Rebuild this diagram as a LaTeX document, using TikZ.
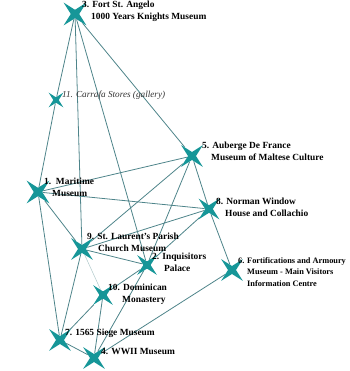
\documentclass[tikz,border=0pt]{standalone}
\usepackage{fontspec}
\setmainfont{Liberation Serif}
\usetikzlibrary{shapes.geometric, backgrounds}

\definecolor{startea}{RGB}{22,150,152}
\definecolor{linkgray}{RGB}{78,132,138}

\begin{document}
\begin{tikzpicture}[
	x=1pt, y=-1pt,
	site/.style = {star, star points=4, star point ratio=0.26, fill=startea,
	               inner sep=0pt, minimum size=#1},
	site/.default = 8.4pt,
	txt/.style = {anchor=north west, inner sep=0pt, align=left,
	              font=\fontsize{9.4}{11.8}\selectfont\bfseries},
	link/.style = {draw=linkgray, line width=0.8pt},
	faint/.style = {draw=linkgray!45, line width=0.5pt}
     ]
		\useasboundingbox (0,0) rectangle (349,371);
%
		\node[site]        (fort)     at (75,14)   {};
		\node[site=5.4pt]  (carrafa)  at (56,100)  {};
		\node[site=8pt]    (auberge)  at (192,156) {};
		\node[site]        (maritime) at (38,192)  {};
		\node[site=7.6pt]  (norman)   at (209,209) {};
		\node[site=8pt]    (laurent)  at (82,249)  {};
		\node[site=7.2pt]  (inquis)   at (147,265) {};
		\node[site=8pt]    (fortif)   at (232,270) {};
		\node[site=7.2pt]  (domin)    at (103,295) {};
		\node[site=8pt]    (siege)    at (60,340)  {};
		\node[site=8pt]    (wwii)     at (94,358)  {};
%
		\node[txt] (fort-t)     at (82,1)    {3. Fort St. Angelo\\\hspace*{9pt}1000 Years Knights Museum};
		\node[txt, font=\fontsize{9.2}{11.8}\selectfont\itshape, text=black!80]
		           (carrafa-t)  at (62,91)   {11. Carrafa Stores (gallery)};
		\node[txt] (auberge-t)  at (202,142) {5. Auberge De France\\\hspace*{9pt}Museum of Maltese Culture};
		\node[txt] (maritime-t) at (44,178)  {1.\ \ Maritime\\\hspace*{8pt}Museum};
		\node[txt] (norman-t)   at (216,198) {8. Norman Window\\\hspace*{9pt}House and Collachio};
		\node[txt] (laurent-t)  at (87,233)  {9. St. Laurent's Parish\\\hspace*{11pt}Church Museum};
		\node[txt] (inquis-t)   at (152,253) {2. Inquisitors\\\hspace*{12pt}Palace};
		\node[txt, font=\fontsize{8.3}{11.8}\selectfont\bfseries]
		           (fortif-t)   at (238,257) {6. Fortifications and Armoury\\\hspace*{9pt}Museum - Main Visitors\\\hspace*{9pt}Information Centre};
		\node[txt] (domin-t)    at (108,284) {10. Dominican\\\hspace*{14pt}Monastery};
		\node[txt] (siege-t)    at (65,329)  {7. 1565 Siege Museum};
		\node[txt] (wwii-t)     at (101,348) {4. WWII Museum};
%
		\begin{scope}[on background layer]
		\draw[link] (fort) -- (carrafa) (carrafa) -- (maritime)
		            (fort) -- (laurent) (fort) -- (inquis) (fort) -- (auberge);
		\draw[link] (maritime) -- (auberge) (maritime) -- (norman)
		            (maritime) -- (laurent) (maritime) -- (siege);
		\draw[link] (auberge) -- (norman) (norman) -- (fortif)
		            (auberge) -- (laurent) (auberge) -- (inquis)
		            (norman) -- (laurent) (norman) -- (inquis);
		\draw[link] (laurent) -- (inquis) (laurent) -- (siege)
		            (inquis) -- (domin) (inquis) -- (wwii)
		            (domin) -- (siege) (domin) -- (wwii)
		            (siege) -- (wwii) (wwii) -- (fortif);
		\draw[faint] (laurent) -- (domin);
		\end{scope}
\end{tikzpicture}
\end{document}
